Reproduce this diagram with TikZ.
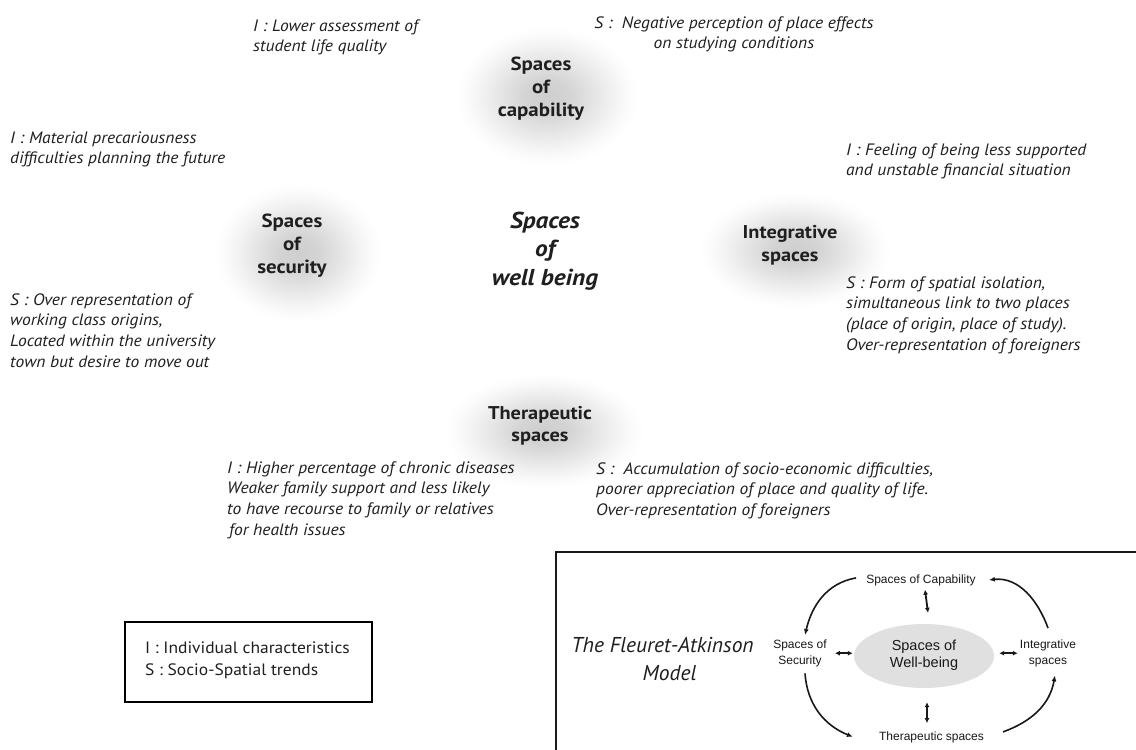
\documentclass[tikz,border=0pt]{standalone}
\usepackage{fontspec}
\setmainfont{PT Sans}
\newfontfamily\annfam{PT Sans}[FakeStretch=1.06]
\newfontfamily\lblfam{PT Sans}[FakeStretch=1.1]
\newfontfamily\arialf{Liberation Sans}
\usetikzlibrary{arrows.meta,shapes.geometric,calc}
\pgfdeclareradialshading{glowsh}{\pgfpoint{0bp}{0bp}}{color(0bp)=(black!19); color(6bp)=(black!17); color(12bp)=(black!11); color(18bp)=(black!5); color(22bp)=(black!1.5); color(25bp)=(white); color(50bp)=(white)}
\newcommand\annf{\annfam\itshape\fontsize{16.5}{20.8}\selectfont}
\newcommand\lblf{\lblfam\bfseries\fontsize{19}{23}\selectfont}
\newcommand\wbf{\lblfam\bfseries\itshape\fontsize{23}{28.5}\selectfont}
\newcommand\legf{\annfam\fontsize{16.5}{22}\selectfont}
\newcommand\famf{\itshape\fontsize{21.5}{28}\selectfont}
\newcommand\insf{\arialf\fontsize{12}{16}\selectfont}
\newcommand\inwb{\arialf\fontsize{14.5}{17}\selectfont}
\tikzset{
  ann/.style={font=\annf, align=left, anchor=north west, inner sep=0pt, text=black!88},
  annc/.style={font=\annf, align=center, anchor=north, inner sep=0pt, text=black!88},
  lbl/.style={font=\lblf, align=center, anchor=north, inner sep=0pt, text=black!88},
  glowshade/.style={shading=glowsh},
  insn/.style={font=\insf, align=center, inner sep=2pt, text=black!90},
  arr/.style={line width=1.6pt, black!90, -{Latex[length=6pt,width=5pt]}},
  dbl/.style={line width=1.8pt, black!90, {Latex[length=5pt,width=5pt]}-{Latex[length=5pt,width=5pt]}},
}
\begin{document}
\begin{tikzpicture}[x=1pt,y=1pt]
\useasboundingbox (0,0) rectangle (1136,-750);
\fill[white] (0,0) rectangle (1136,-750);
\clip (0,0) rectangle (1136,-750);

% glows
\shade[glowshade] (547,-96) ellipse (92 and 70);
\shade[glowshade] (298,-253) ellipse (84 and 70);
\shade[glowshade] (795,-250) ellipse (96 and 58);
\shade[glowshade] (544,-431) ellipse (100 and 58);

% main labels
\node[lbl] (cap) at (541,-53.9) {\strut Spaces\\of\\capability};
\node[lbl] (sec) at (292,-210.9) {\strut Spaces\\of\\security};
\node[lbl, font=\wbf] (wb) at (545,-208) {\strut Spaces\\of\\well being};
\node[lbl, font=\lblfam\bfseries\fontsize{18.5}{23.5}\selectfont] (integ) at (790,-221.5) {\strut Integrative\\spaces};
\node[lbl, font=\lblfam\bfseries\fontsize{18.5}{22}\selectfont] (ther) at (540,-403.6) {\strut Therapeutic\\spaces};

% annotations
\node[ann] (iLower) at (253,-16.4) {\strut I : Lower assessment of\\student life quality};
\node[annc] (sNeg) at (734,-13.4) {\strut S :~ Negative perception of place effects\\on studying conditions};
\node[ann] (iMat) at (10,-128.4) {\strut I : Material precariousness\\difficulties planning the future};
\node[ann] (sOver) at (10,-290.4) {\strut S : Over representation of\\working class origins,\\Located within the university\\town but desire to move out};
\node[ann] (iFeel) at (846,-140.4) {\strut I : Feeling of being less supported\\and unstable financial situation};
\node[ann] (sForm) at (846,-273.4) {\strut S : Form of spatial isolation,\\simultaneous link to two places\\(place of origin, place of study).\\Over-representation of foreigners};
\node[ann] (iHigh) at (227,-458.4) {\strut I : Higher percentage of chronic diseases\\Weaker family support and less likely\\to have recourse to family or relatives\\\hspace*{2pt}for health issues};
\node[ann] (sAcc) at (596,-459.4) {\strut S :~ Accumulation of socio-economic difficulties,\\poorer appreciation of place and quality of life.\\Over-representation of foreigners};

% legend
\node[draw, line width=2.2pt, minimum width=247pt, minimum height=80pt, inner sep=0pt] (legbox) at (248.5,-662) {};
\node[anchor=north west, inner sep=0pt, font=\legf, align=left, text=black!88] (legtxt) at (145,-637.6) {\strut I : Individual characteristics\\S : Socio-Spatial trends};

% inset
\draw[line width=2.5pt, black!90] (556,-552) rectangle (1160,-780);
\node[font=\famf, align=center, anchor=north, inner sep=0pt, text=black!88] (fam) at (662.5,-632.4) {\strut The Fleuret-Atkinson\\\hspace*{14pt}Model};
\node[insn, anchor=base] (mcap) at (921,-583) {Spaces of Capability};
\node[insn, anchor=north] (msec) at (800,-635) {\strut Spaces of\\Security\strut};
\node[ellipse, fill=black!12, minimum width=140pt, minimum height=64pt, inner sep=0pt, font=\inwb, align=center, text=black!90] (mwb) at (924,-656) {\strut Spaces of\\Well-being\strut};
\node[insn, anchor=north] (minteg) at (1048,-635) {\strut Integrative\\spaces\strut};
\node[insn, anchor=base] (mther) at (931.5,-740) {Therapeutic spaces};

\draw[dbl] ([xshift=4pt,yshift=-2pt]mcap.south) -- ([xshift=4pt,yshift=11pt]mwb.north);
\draw[dbl] ([xshift=3pt,yshift=-14pt]mwb.south) -- ([xshift=-4.5pt,yshift=6pt]mther.north);
\draw[dbl] ([xshift=6pt]msec.east) -- ([xshift=-1pt]msec.east -| mwb.west);
\draw[dbl] ([xshift=5pt]minteg.west -| mwb.east) -- (minteg.west);

\draw[arr] ([xshift=-8pt,yshift=2pt]mcap.west) to[out=190,in=77] ([xshift=5pt]msec.north);
\draw[arr] ([yshift=7pt]minteg.north) to[out=110,in=6] ([xshift=11pt]mcap.east);
\draw[arr] ([xshift=5pt,yshift=-2pt]msec.south) to[out=-86,in=158] ([xshift=-24pt]mther.west);
\draw[arr] ([xshift=17pt,yshift=5pt]mther.east) to[out=20,in=-100] ([xshift=7pt,yshift=-4pt]minteg.south);
\end{tikzpicture}
\end{document}
